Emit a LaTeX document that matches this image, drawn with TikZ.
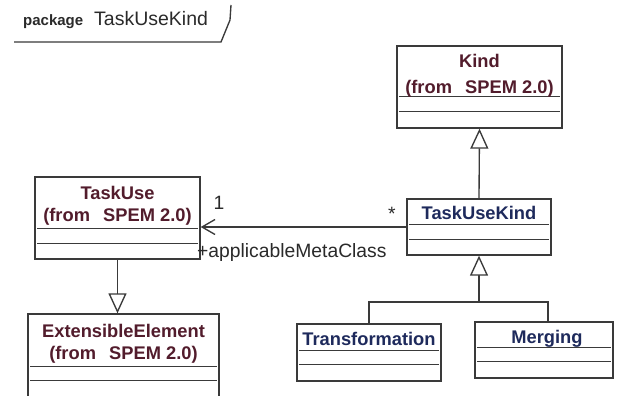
\documentclass[tikz,border=0pt]{standalone}
\usepackage{fontspec}
\setmainfont{Liberation Sans}
\usetikzlibrary{arrows.meta,calc}
\definecolor{edge}{HTML}{3A3A3A}
\definecolor{extname}{HTML}{521C2C}
\definecolor{ownname}{HTML}{1E2A5C}
\definecolor{plain}{HTML}{2A2A2A}
\newcommand\clsfont{\fontsize{18.3}{22}\selectfont\bfseries}
\newcommand\lblfont{\fontsize{19.3}{23}\selectfont}
\newcommand\fromspem{(from\hspace{0.72em}SPEM 2.0)}
\begin{document}
\begin{tikzpicture}[x=1pt,y=-1pt,
  line/.style={draw=edge, line width=1.35pt},
  classbox/.style={line, fill=white, rectangle, inner sep=0pt},
  clsname/.style={anchor=base, inner sep=0pt, font=\clsfont},
  lbl/.style={inner sep=0pt, font=\lblfont, text=plain},
  gen/.style={line, -{Triangle[length=20pt,width=18pt,fill=white,line width=1.35pt]}},
  assoc/.style={line, {Straight Barb[length=13pt,width=15pt,line width=1.35pt]}-}
]
\useasboundingbox[fill=white] (0,0) rectangle (621,396);

% package tab
\node[anchor=base west, inner sep=0pt, text=plain, font=\fontsize{15}{18}\selectfont\bfseries] (pkgkw) at (23,26) {package};
\node[anchor=base west, inner sep=0pt, text=plain, font=\fontsize{19.5}{23}\selectfont] (pkgname) at (94,26) {TaskUseKind};
\draw[line] (231,5) -- (230,20) -- (221,42) -- (14,42);

% classes
\node[classbox, minimum width=165pt, minimum height=82pt] (kind) at (479.5,87) {};
\node[classbox, minimum width=165pt, minimum height=82pt] (tu) at (117.5,218) {};
\node[classbox, minimum width=191pt, minimum height=86pt] (ee) at (123.5,357) {};
\node[classbox, minimum width=144pt, minimum height=56pt] (tuk) at (479,227) {};
\node[classbox, minimum width=144pt, minimum height=57pt] (trans) at (369,352.5) {};
\node[classbox, minimum width=138pt, minimum height=56pt] (merg) at (544,350) {};

% compartment separators
\foreach \c/\a/\b in {kind/51/66, tu/52/67, ee/53/67, tuk/26/41, trans/27/41, merg/26/40}{
  \draw[line] ($(\c.north west)+(3,\a)$) -- ($(\c.north east)+(-3,\a)$);
  \draw[line] ($(\c.north west)+(3,\b)$) -- ($(\c.north east)+(-3,\b)$);
}

% class names
\node[clsname, text=extname] (kindn) at (479.5,67.5) {Kind};
\node[clsname, text=extname] (kindf) at (479.5,93.5) {\fromspem};
\node[clsname, text=extname] (tun) at (117.5,199.5) {TaskUse};
\node[clsname, text=extname] (tuf) at (117.5,221.5) {\fromspem};
\node[clsname, text=extname] (een) at (123.5,337.5) {ExtensibleElement};
\node[clsname, text=extname] (eef) at (123.5,359.5) {\fromspem};
\node[clsname, text=ownname] (tukn) at (479,219.5) {TaskUseKind};
\node[clsname, text=ownname] (transn) at (369,345.5) {Transformation};
\node[clsname, text=ownname] (mergn) at (547,343.5) {Merging};

% generalizations
\draw[gen] (tuk.north) -- (kind.south);
\draw[gen] (tu.south) -- (tu.south |- ee.north);
\coordinate (jn) at (479,302);
\coordinate (mtop) at (548,322);
\draw[line] (trans.north) |- (jn);
\draw[line] (mtop) |- (jn);
\draw[gen] (jn) -- (tuk.south);

% association
\draw[assoc] (tuk.west -| tu.east) -- (tuk.west);
\node[lbl, anchor=base] (m1) at (219,209) {1};
\node[lbl, anchor=base] (mstar) at (392,220) {*};
\node[lbl, anchor=base west] (role) at (197,257) {+applicableMetaClass};
\end{tikzpicture}
\end{document}
